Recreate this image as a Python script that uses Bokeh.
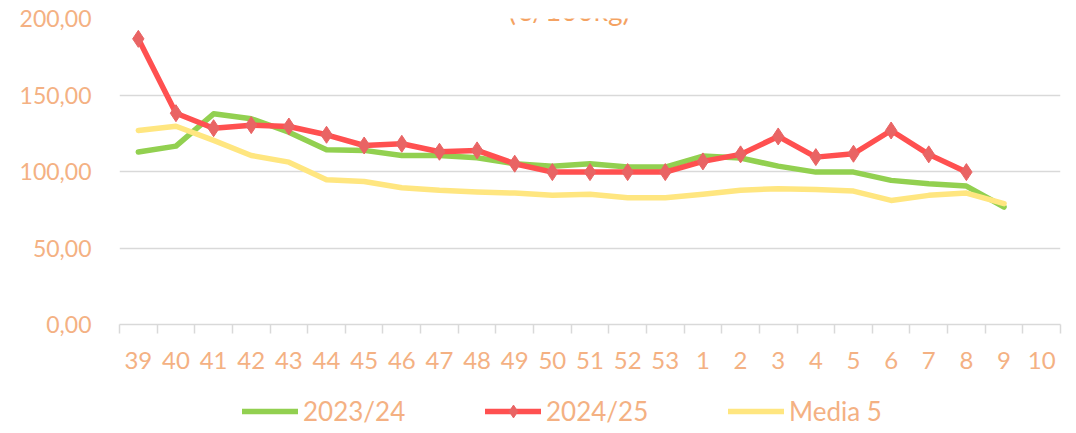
from bokeh.plotting import figure
from bokeh.models import (Range1d, FixedTicker, Legend, LegendItem, Label)
from bokeh.layouts import column
from bokeh.embed import file_html
from bokeh.resources import INLINE

weeks = ["39", "40", "41", "42", "43", "44", "45", "46", "47", "48", "49", "50",
         "51", "52", "53", "1", "2", "3", "4", "5", "6", "7", "8", "9", "10"]
s2023_24 = [112.7, 116.6, 137.7, 134.5, 125.7, 114.2, 113.8, 110.5, 110.5, 109.0,
            105.1, 103.5, 105.1, 102.9, 102.9, 110.1, 108.8, 103.5, 99.6, 99.6,
            94.2, 92.0, 90.5, 76.8]
s2024_25 = [186.7, 138.1, 128.3, 130.3, 129.4, 124.0, 117.0, 118.1, 112.9, 113.8,
            105.1, 99.6, 99.6, 99.6, 99.6, 106.6, 111.2, 122.9, 109.4, 111.6,
            126.8, 111.2, 99.6]
media5 = [126.8, 129.6, 120.3, 110.5, 106.1, 94.6, 93.5, 89.4, 87.7, 86.6,
          85.9, 84.4, 85.1, 82.9, 82.9, 85.1, 87.7, 88.8, 88.3, 87.2,
          81.1, 84.4, 85.9, 79.0]
y_ticks = [0, 50, 100, 150, 200]
series_names = ["2023/24", "2024/25", "Media 5"]
title_text = "(€/100kg)"

TXT = "#F4B183"
FONT = "Lato"
GRID = "#D9D9D9"
C_GREEN, C_RED, C_RED_M, C_YEL = "#92D050", "#FF5050", "#E96464", "#FFE680"

n = len(weeks)
centers = [i + 0.5 for i in range(n)]

p = figure(frame_width=941, frame_height=306, output_backend="svg",
           toolbar_location=None, x_range=Range1d(0, n), y_range=Range1d(0, 200),
           min_border_left=119, min_border_right=16, min_border_top=18,
           min_border_bottom=61)
p.outline_line_color = None
p.background_fill_color = "white"
p.border_fill_color = "white"

# axes
xa = p.xaxis[0]
xa.ticker = FixedTicker(ticks=centers, minor_ticks=list(range(n + 1)))
xa.major_label_overrides = {c: w for c, w in zip(centers, weeks)}
xa.major_tick_line_color = None
xa.major_tick_out = 0
xa.major_tick_in = 0
xa.minor_tick_out = 9
xa.minor_tick_in = 0
xa.minor_tick_line_color = GRID
xa.minor_tick_line_width = 1.5
xa.axis_line_color = GRID
xa.axis_line_width = 1.5
xa.major_label_text_font = FONT
xa.major_label_text_font_size = "24px"
xa.major_label_text_color = TXT
xa.major_label_standoff = 18

ya = p.yaxis[0]
ya.ticker = FixedTicker(ticks=y_ticks)
ya.major_label_overrides = {t: f"{t:.2f}".replace(".", ",") for t in y_ticks}
ya.axis_line_color = None
ya.major_tick_line_color = None
ya.minor_tick_line_color = None
ya.major_tick_out = 0
ya.major_tick_in = 0
ya.major_label_text_font = FONT
ya.major_label_text_font_size = "23px"
ya.major_label_text_color = TXT
ya.major_label_standoff = 28

p.xgrid.grid_line_color = None
p.ygrid.grid_line_color = GRID
p.ygrid.grid_line_width = 1.5
p.ygrid.ticker = FixedTicker(ticks=y_ticks)

# series
line_kw = dict(line_width=5.5, line_join="round", line_cap="round")
p.line(centers[:len(s2023_24)], s2023_24, line_color=C_GREEN, **line_kw)
p.line(centers[:len(media5)], media5, line_color=C_YEL, **line_kw)
p.line(centers[:len(s2024_25)], s2024_25, line_color=C_RED, **line_kw)
p.scatter(centers[:len(s2024_25)], s2024_25, marker="diamond", size=17,
          fill_color=C_RED_M, line_color=C_RED_M)

title = Label(x=11.95, y=205.8, text=title_text, text_align="center",
              text_baseline="alphabetic", text_font=FONT, text_font_size="28px",
              text_color="#F4A262")
p.add_layout(title)

# legend strip below the chart (series drawn out of its visible range, only
# their legend glyphs show)
lg = figure(width=1076, height=48, output_backend="svg", toolbar_location=None,
            x_axis_type=None, y_axis_type=None, x_range=Range1d(0, n),
            y_range=Range1d(-2, -1), min_border=0)
lg.outline_line_color = None
lg.grid.visible = False
lg_green = lg.line(centers[:len(s2023_24)], s2023_24, line_color=C_GREEN, **line_kw)
lg_red = lg.line(centers[:len(s2024_25)], s2024_25, line_color=C_RED, **line_kw)
lg_red_m = lg.scatter(centers[:len(s2024_25)], s2024_25, marker="diamond", size=17,
                      fill_color=C_RED_M, line_color=C_RED_M)
lg_yel = lg.line(centers[:len(media5)], media5, line_color=C_YEL, **line_kw)

legend = Legend(items=[
    LegendItem(label=series_names[0], renderers=[lg_green]),
    LegendItem(label=series_names[1], renderers=[lg_red, lg_red_m]),
    LegendItem(label=series_names[2], renderers=[lg_yel]),
], orientation="horizontal", location=(123, 6))
legend.glyph_width = 56
legend.glyph_height = 32
legend.label_height = 32
legend.label_width = 133
legend.label_standoff = 5
legend.spacing = 49
legend.padding = 0
legend.margin = 0
legend.border_line_color = None
legend.background_fill_alpha = 0
legend.label_text_font = FONT
legend.label_text_font_size = "26px"
legend.label_text_color = TXT
lg.add_layout(legend, "center")

layout = column(p, lg, spacing=0)
open("out.html", "w").write(file_html(layout, INLINE))
